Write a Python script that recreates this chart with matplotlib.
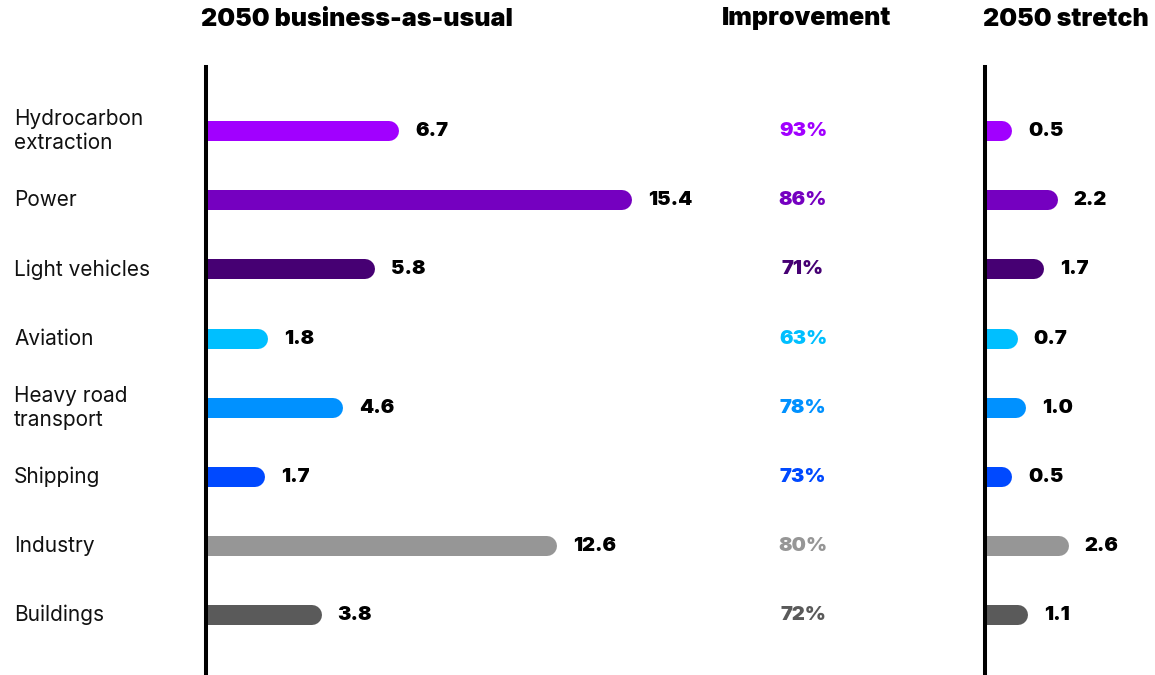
import matplotlib.pyplot as plt

plt.rcParams['font.family'] = ['Inter', 'DejaVu Sans']

sectors = ["Hydrocarbon\nextraction", "Power", "Light vehicles", "Aviation",
           "Heavy road\ntransport", "Shipping", "Industry", "Buildings"]
bau_2050 = [6.7, 15.4, 5.8, 1.8, 4.6, 1.7, 12.6, 3.8]
improvement = [93, 86, 71, 63, 78, 73, 80, 72]
stretch_2050 = [0.5, 2.2, 1.7, 0.7, 1.0, 0.5, 2.6, 1.1]
colors = ["#A100FF", "#7500C0", "#460073", "#00BFFF",
          "#0091FF", "#0049FF", "#969696", "#5A5A5A"]

W, H = 1155, 675
fig = plt.figure(figsize=(W / 100, H / 100), dpi=100)

PX_PER_UNIT = 26.75
BASE_PX = 4          # small gap between the axis line and the zero point
BAR_PX = 20
y_top, y_bot = 67, 675
ylim = (7.87, -0.93)


def add_panel(x0, x1):
    ax = fig.add_axes([x0 / W, 1 - y_bot / H, (x1 - x0) / W, (y_bot - y_top) / H])
    ax.set_xlim(-BASE_PX / PX_PER_UNIT, (x1 - x0 - BASE_PX) / PX_PER_UNIT)
    ax.set_ylim(*ylim)
    for s in ["top", "right", "bottom"]:
        ax.spines[s].set_visible(False)
    ax.spines["left"].set_linewidth(2.9)
    ax.spines["left"].set_color("black")
    ax.set_xticks([])
    ax.set_yticks([])
    ax.patch.set_alpha(0)
    return ax


def draw_bars(ax, values):
    for i, (v, c) in enumerate(zip(values, colors)):
        ax.plot([-1, v], [i, i], color=c, lw=BAR_PX * 0.72,
                solid_capstyle="round", zorder=1)
        ax.annotate(f"{v:.1f}", (v, i), xytext=(26, 0), textcoords="offset pixels",
                    ha="left", va="center", fontsize=14.5, fontweight="black",
                    color="black")


left = add_panel(206, 720)
draw_bars(left, bau_2050)
for i, name in enumerate(sectors):
    left.annotate(name, (0, i), xytext=(-196, 0), textcoords="offset pixels",
                  ha="left", va="center", fontsize=15, color="#111111",
                  linespacing=1.25, annotation_clip=False)

right = add_panel(985, 1155)
draw_bars(right, stretch_2050)

# improvement column sits between the two panels
for i, (p, c) in enumerate(zip(improvement, colors)):
    left.annotate(f"{p}%", (0, i), xytext=(803 - 210, 0), textcoords="offset pixels",
                  ha="center", va="center", fontsize=14.5, fontweight="black",
                  color=c, annotation_clip=False)

title_y = 1 - 19 / H
fig.text(357 / W, title_y, "2050 business-as-usual", ha="center", va="center",
         fontsize=18, fontweight="black")
fig.text(807 / W, title_y, "Improvement", ha="center", va="center",
         fontsize=18, fontweight="black")
fig.text(1066 / W, title_y, "2050 stretch", ha="center", va="center",
         fontsize=18, fontweight="black")

fig.savefig("out.png", dpi=100)
